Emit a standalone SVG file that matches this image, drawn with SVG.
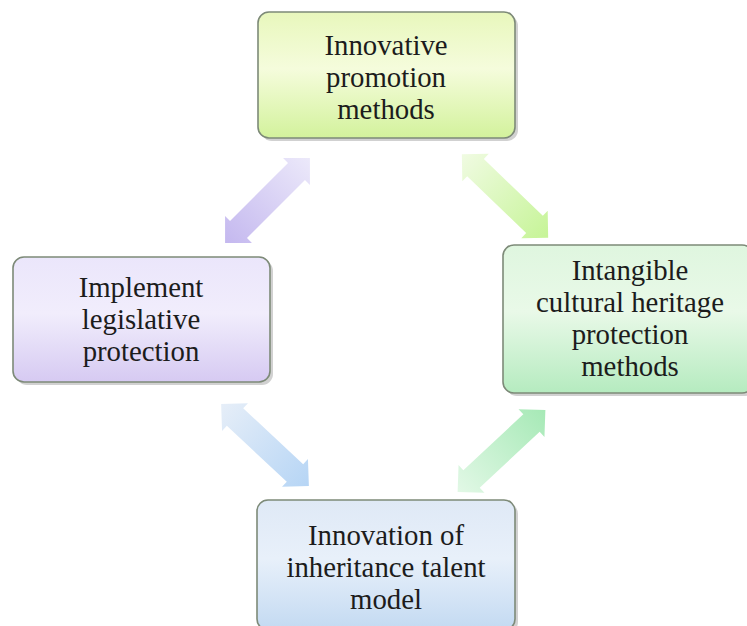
<svg xmlns="http://www.w3.org/2000/svg" width="747" height="626" viewBox="0 0 747 626">
<defs>
<style>
.box{stroke:#7d8a78;stroke-width:1.6}
.sh{fill:#9a9a9a;opacity:0.45}
.t{font-family:"Liberation Serif","Times New Roman",serif;font-size:28.8px;fill:#1c1c1c;text-anchor:middle}
</style>
<linearGradient id="gTop" x1="0" y1="0" x2="0" y2="1">
<stop offset="0" stop-color="#e8f7bc"/><stop offset="0.45" stop-color="#f5fcdc"/><stop offset="1" stop-color="#d3f29c"/>
</linearGradient>
<linearGradient id="gLeft" x1="0" y1="0" x2="0" y2="1">
<stop offset="0" stop-color="#ebe6fb"/><stop offset="0.45" stop-color="#f1edfc"/><stop offset="1" stop-color="#d6caf2"/>
</linearGradient>
<linearGradient id="gRight" x1="0" y1="0" x2="0" y2="1">
<stop offset="0" stop-color="#dff6df"/><stop offset="0.45" stop-color="#e9f9e8"/><stop offset="1" stop-color="#b5ebbf"/>
</linearGradient>
<linearGradient id="gBot" x1="0" y1="0" x2="0" y2="1">
<stop offset="0" stop-color="#dfe9f6"/><stop offset="0.45" stop-color="#e8f0fa"/><stop offset="1" stop-color="#c3daf2"/>
</linearGradient>
<linearGradient id="aUL" x1="-60" y1="0" x2="60" y2="0" gradientUnits="userSpaceOnUse">
<stop offset="0" stop-color="#c4b8ef"/><stop offset="1" stop-color="#ece9fa"/>
</linearGradient>
<linearGradient id="aUR" x1="-60" y1="0" x2="60" y2="0" gradientUnits="userSpaceOnUse">
<stop offset="0" stop-color="#f0fbe2"/><stop offset="1" stop-color="#c6f497"/>
</linearGradient>
<linearGradient id="aLL" x1="-60" y1="0" x2="60" y2="0" gradientUnits="userSpaceOnUse">
<stop offset="0" stop-color="#e6eef8"/><stop offset="1" stop-color="#b6d5f5"/>
</linearGradient>
<linearGradient id="aLR" x1="-60" y1="0" x2="60" y2="0" gradientUnits="userSpaceOnUse">
<stop offset="0" stop-color="#e2f8e6"/><stop offset="1" stop-color="#a6e9b6"/>
</linearGradient>
<path id="dbl" d="M-60,0 L-41,-19 L-41,-12 L41,-12 L41,-19 L60,0 L41,19 L41,12 L-41,12 L-41,19 Z"/>
</defs>
<rect width="747" height="626" fill="#ffffff"/>
<g id="connectors">
<use href="#dbl" fill="url(#aUL)" transform="translate(267.5,200.5) rotate(-45)"/>
<use href="#dbl" fill="url(#aUR)" transform="translate(505,196) rotate(44)"/>
<use href="#dbl" fill="url(#aLL)" transform="translate(265,445) rotate(43)"/>
<use href="#dbl" fill="url(#aLR)" transform="translate(501.5,451) rotate(137) scale(-1,1)"/>
</g>
<g id="node-top">
<rect class="sh" x="261" y="15" width="257" height="126" rx="11"/>
<rect class="box" x="258" y="12" width="257" height="126" rx="11" fill="url(#gTop)"/>
<text class="t" x="386" y="55">Innovative</text>
<text class="t" x="386" y="87">promotion</text>
<text class="t" x="386" y="119">methods</text>
</g>
<g id="node-left">
<rect class="sh" x="16" y="260" width="257" height="125" rx="11"/>
<rect class="box" x="13" y="257" width="257" height="125" rx="11" fill="url(#gLeft)"/>
<text class="t" x="141" y="297">Implement</text>
<text class="t" x="141" y="329">legislative</text>
<text class="t" x="141" y="361">protection</text>
</g>
<g id="node-right">
<rect class="sh" x="506" y="248" width="250" height="148" rx="11"/>
<rect class="box" x="503" y="245" width="250" height="148" rx="11" fill="url(#gRight)"/>
<text class="t" x="630" y="280">Intangible</text>
<text class="t" x="630" y="312">cultural heritage</text>
<text class="t" x="630" y="344">protection</text>
<text class="t" x="630" y="376">methods</text>
</g>
<g id="node-bottom">
<rect class="sh" x="260" y="503" width="258" height="130" rx="11"/>
<rect class="box" x="257" y="500" width="258" height="130" rx="11" fill="url(#gBot)"/>
<text class="t" x="386" y="545">Innovation of</text>
<text class="t" x="386" y="577">inheritance talent</text>
<text class="t" x="386" y="609">model</text>
</g>
</svg>
